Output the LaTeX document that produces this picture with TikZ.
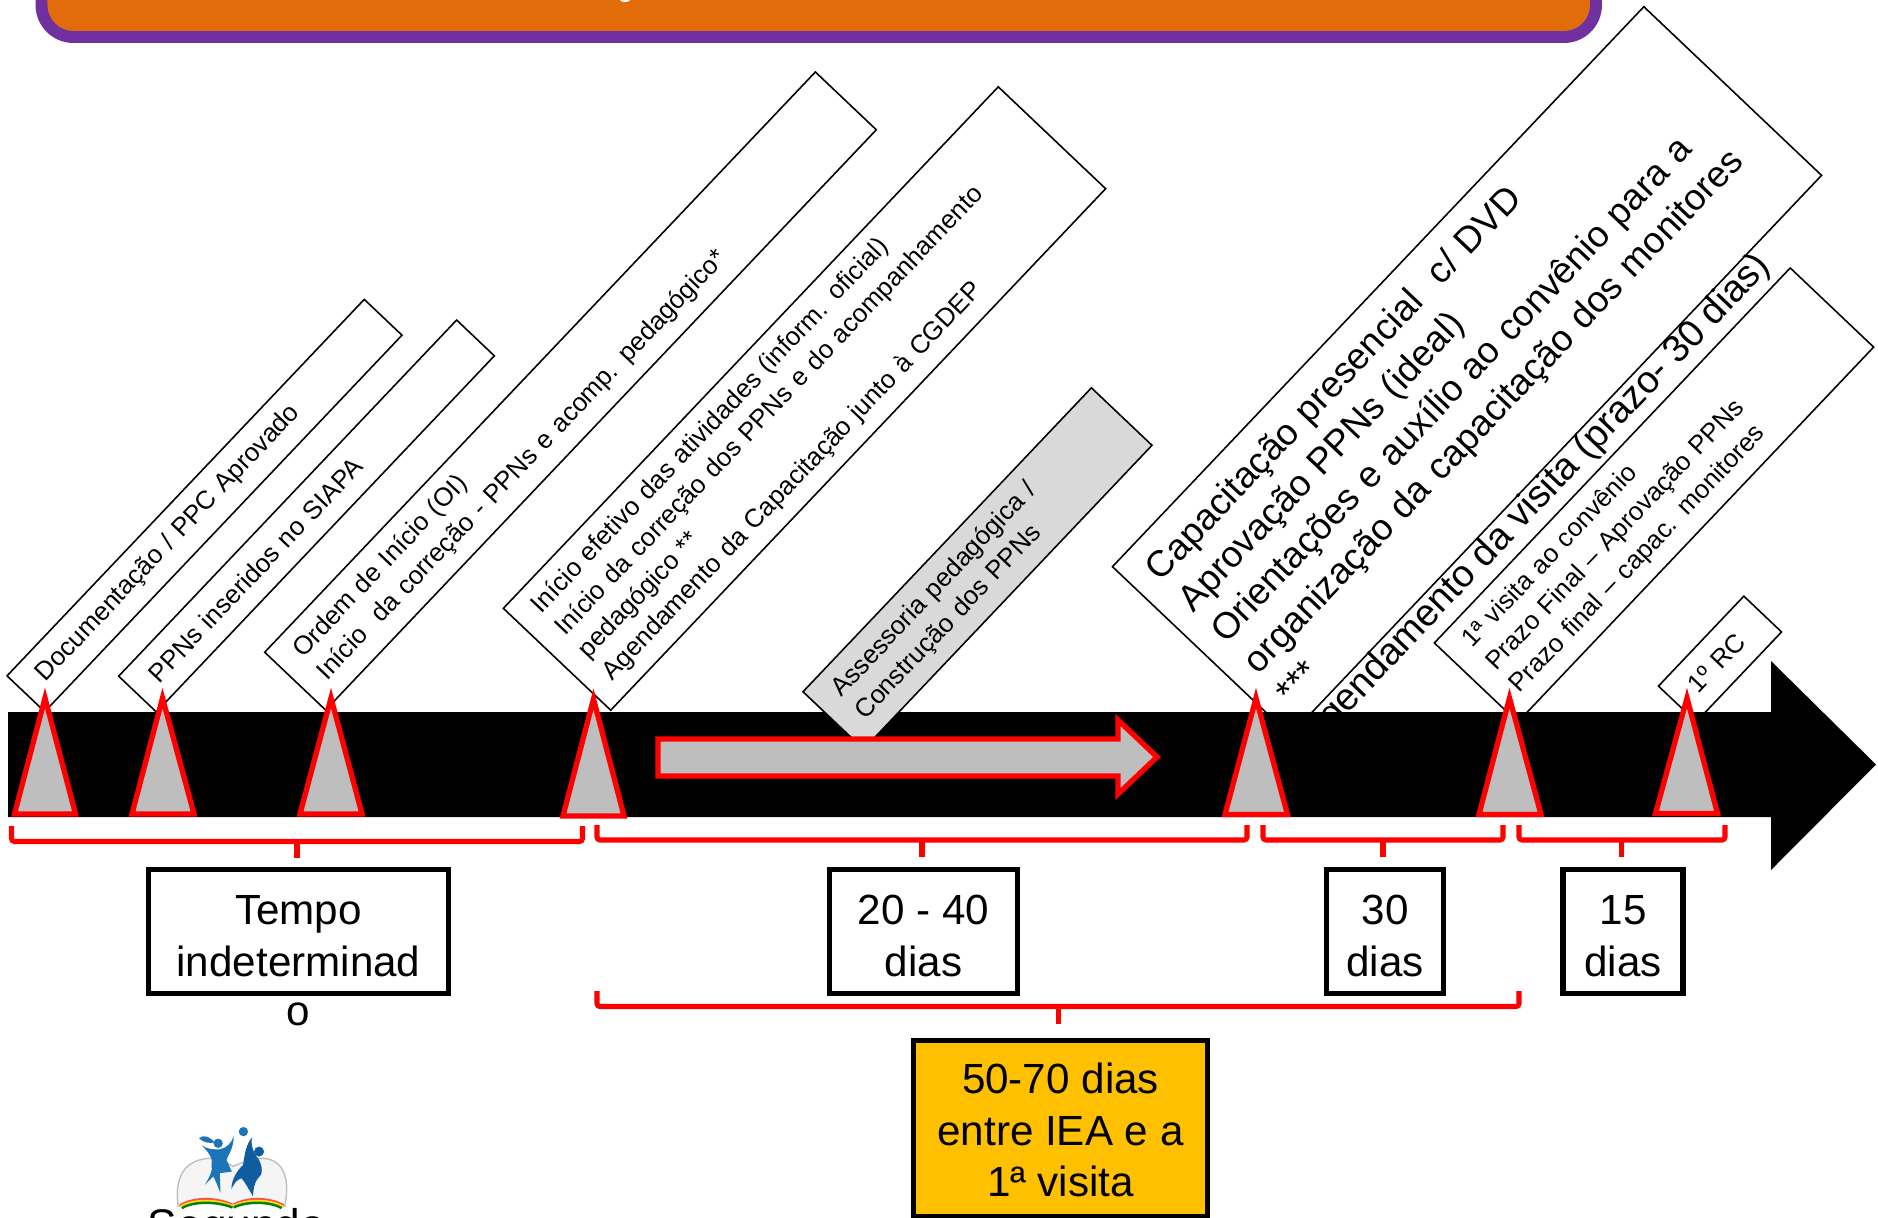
\documentclass[tikz,border=0pt]{standalone}
\usepackage{fontspec}
\setmainfont{Liberation Sans}
\usepackage{xcolor}
\usetikzlibrary{positioning}
\definecolor{bannerorange}{HTML}{E36C0A}
\definecolor{bannerpurple}{HTML}{7030A0}
\definecolor{markergray}{HTML}{BEBEBE}
\definecolor{notegray}{HTML}{D9D9D9}
\definecolor{totalyellow}{HTML}{FFC000}
\definecolor{logoblue}{HTML}{1B75B8}
\definecolor{logodark}{HTML}{0F5C9E}
\tikzset{
  notebox/.style={draw, fill=white, line width=0.45pt, rotate=46.5, align=left, inner xsep=0.22cm, inner ysep=0pt},
  smalltext/.style={font=\fontsize{7.35}{9.3}\selectfont},
  largetext/.style={font=\fontsize{10.45}{12.8}\selectfont},
  marker/.style={draw=red, fill=markergray, line width=1.5pt},
  spanbrace/.style={draw=red, line width=1.45pt, rounded corners=0.03cm},
  daybox/.style={draw, fill=white, line width=1.45pt, align=center, inner sep=0pt, font=\fontsize{12}{14.7}\selectfont}
}
\begin{document}
\begin{tikzpicture}[x=1cm, y=-1cm]
    \path[use as bounding box, clip] (0,0) rectangle (18.78,12.17);

    \draw[bannerpurple, fill=bannerorange, line width=3.4pt, rounded corners=0.32cm] (0.415,-0.6) rectangle (15.96,0.37);
    \fill[white] (6.25,0) ellipse (0.05 and 0.02);

    \node[notebox, smalltext, text width=4.75cm, minimum height=0.52cm] (docs) at (2.045,5.055) {Documentação / PPC Aprovado};
    \node[notebox, smalltext, text width=4.47cm, minimum height=0.52cm] (siapa) at (3.065,5.16) {PPNs inseridos no SIAPA};
    \node[notebox, smalltext, text width=7.56cm, minimum height=0.84cm] (ordem) at (5.705,3.91) {Ordem de Início (OI)\\Início\ \ da correção - PPNs e acomp. pedagógico*};
    \node[notebox, smalltext, text width=6.75cm, minimum height=1.48cm] (inicio) at (8.045,3.985) {Início efetivo das atividades (inform. oficial)\\Início da correção dos PPNs e do acompanhamento\\pedagógico **\\Agendamento da Capacitação junto à CGDEP};
    \node[notebox, largetext, text width=7.28cm, minimum height=2.45cm] (capac) at (14.67,3.71) {Capacitação presencial\ \ c/ DVD\\Aprovação PPNs (ideal)\\Orientações e auxílio ao convênio para a\\organização da capacitação dos monitores\\****};
    \node[notebox, smalltext, text width=4.73cm, minimum height=1.15cm] (visita) at (16.54,4.95) {1ª visita ao convênio\\Prazo Final – Aprovação PPNs\\Prazo final – capac. monitores};
    \node[rotate=46.5, inner sep=0pt, font=\fontsize{10.8}{12.8}\selectfont] (agenda) at (15.365,5.01) {Agendamento da visita (prazo- 30 dias)};
    \node[notebox, smalltext, text width=0.8cm, minimum height=0.52cm] (rc) at (17.2,6.59) {1º RC};

    \fill[black] (0.08,7.12) -- (17.71,7.12) -- (17.71,6.61) -- (18.76,7.645) -- (17.71,8.7) -- (17.71,8.17) -- (0.08,8.17) -- cycle;

    \node[notebox, smalltext, fill=notegray, text width=3.75cm, minimum height=0.835cm] (assess) at (9.775,5.685) {Assessoria pedagógica /\\Construção dos PPNs};

    \draw[marker] (6.58,7.39) -- (11.18,7.39) -- (11.18,7.20) -- (11.57,7.57) -- (11.18,7.94) -- (11.18,7.76) -- (6.58,7.76) -- cycle;

    \draw[marker] (0.45,6.98) -- (0.755,8.14) -- (0.145,8.14) -- cycle;
    \draw[marker] (1.625,6.98) -- (1.94,8.14) -- (1.32,8.14) -- cycle;
    \draw[marker] (3.31,6.98) -- (3.62,8.14) -- (3.00,8.14) -- cycle;
    \draw[marker] (5.935,6.99) -- (6.24,8.16) -- (5.63,8.16) -- cycle;
    \draw[marker] (12.56,6.98) -- (12.875,8.145) -- (12.25,8.145) -- cycle;
    \draw[marker] (15.095,6.98) -- (15.41,8.145) -- (14.79,8.145) -- cycle;
    \draw[marker] (16.87,6.98) -- (17.175,8.135) -- (16.555,8.135) -- cycle;

    \draw[spanbrace] (0.115,8.26) |- (5.825,8.415) -- (5.825,8.26);
    \draw[spanbrace] (2.97,8.415) -- (2.97,8.58);
    \draw[spanbrace] (5.97,8.25) |- (12.47,8.40) -- (12.47,8.25);
    \draw[spanbrace] (9.22,8.40) -- (9.22,8.57);
    \draw[spanbrace] (12.63,8.25) |- (15.03,8.40) -- (15.03,8.25);
    \draw[spanbrace] (13.83,8.40) -- (13.83,8.57);
    \draw[spanbrace] (15.19,8.25) |- (17.25,8.40) -- (17.25,8.25);
    \draw[spanbrace] (16.215,8.40) -- (16.215,8.57);
    \draw[spanbrace] (5.97,9.91) |- (15.19,10.065) -- (15.19,9.91);
    \draw[spanbrace] (10.585,10.065) -- (10.585,10.236);

    \node[daybox, minimum width=3.0cm, minimum height=1.235cm] (tempo) at (2.985,9.315) {\rule{0pt}{10.9pt}Tempo\\indeterminad};
    \node[daybox, draw=none, fill=none, below=0.04cm of tempo] (tempoend) {o};
    \node[daybox, minimum width=1.875cm, minimum height=1.235cm] (vinte) at (9.235,9.315) {\rule{0pt}{10.9pt}20 - 40\\dias};
    \node[daybox, minimum width=1.175cm, minimum height=1.235cm] (trinta) at (13.85,9.315) {\rule{0pt}{10.9pt}30\\dias};
    \node[daybox, minimum width=1.2cm, minimum height=1.235cm] (quinze) at (16.23,9.315) {\rule{0pt}{10.9pt}15\\dias};
    \node[daybox, fill=totalyellow, minimum width=2.94cm, minimum height=1.76cm] (total) at (10.605,11.285) {\rule{0pt}{9.6pt}50-70 dias\\entre IEA e a\\1ª visita};

    \begin{scope}[shift={(1.30,11.10)}, x=0.00333cm, y=-0.00333cm]
        \draw[gray!50, fill=gray!8, line width=0.4pt] (145,290) .. controls (135,220) and (150,150) .. (240,145) .. controls (270,145) and (295,160) .. (310,170) .. controls (330,160) and (370,145) .. (400,145) .. controls (470,150) and (480,220) .. (465,290) -- (400,268) -- (310,292) -- (230,268) -- cycle;
        \draw[red!70, line width=0.7pt] (150,287) .. controls (190,262) and (260,262) .. (308,285);
        \draw[yellow!80!orange, line width=0.7pt] (152,291) .. controls (190,268) and (260,268) .. (308,289);
        \draw[green!50!black, line width=0.7pt] (156,295) .. controls (190,274) and (260,274) .. (308,293);
        \draw[red!70, line width=0.7pt] (312,285) .. controls (350,262) and (420,262) .. (462,287);
        \draw[yellow!80!orange, line width=0.7pt] (312,289) .. controls (350,268) and (420,268) .. (460,291);
        \draw[green!50!black, line width=0.7pt] (312,293) .. controls (350,274) and (420,274) .. (456,295);
        \fill[logoblue] (265,100) circle (14);
        \fill[logoblue] (208,85) .. controls (225,70) and (245,85) .. (255,98) .. controls (235,100) and (220,98) .. (208,85) -- cycle;
        \fill[logoblue] (215,105) .. controls (235,120) and (250,118) .. (270,118) .. controls (290,115) and (305,100) .. (312,78) .. controls (312,115) and (295,135) .. (290,150) -- (306,185) -- (270,190) -- (272,250) .. controls (262,225) and (255,205) .. (250,200) -- (225,225) .. controls (240,200) and (250,180) .. (245,165) .. controls (250,150) and (240,130) .. (215,105) -- cycle;
        \fill[logoblue] (341,65) circle (14);
        \fill[logodark] (388,125) circle (15);
        \fill[logodark] (368,82) .. controls (360,105) and (375,135) .. (385,145) .. controls (400,170) and (400,195) .. (385,205) .. controls (375,215) and (370,240) .. (370,260) .. controls (355,235) and (345,215) .. (335,205) .. controls (320,210) and (310,225) .. (305,238) .. controls (305,205) and (325,180) .. (340,165) .. controls (345,130) and (350,100) .. (368,82) -- cycle;
    \end{scope}
    \node[font=\fontsize{12.6}{15}\selectfont, anchor=base] (segundo) at (2.365,12.40) {Segundo};
\end{tikzpicture}
\end{document}
